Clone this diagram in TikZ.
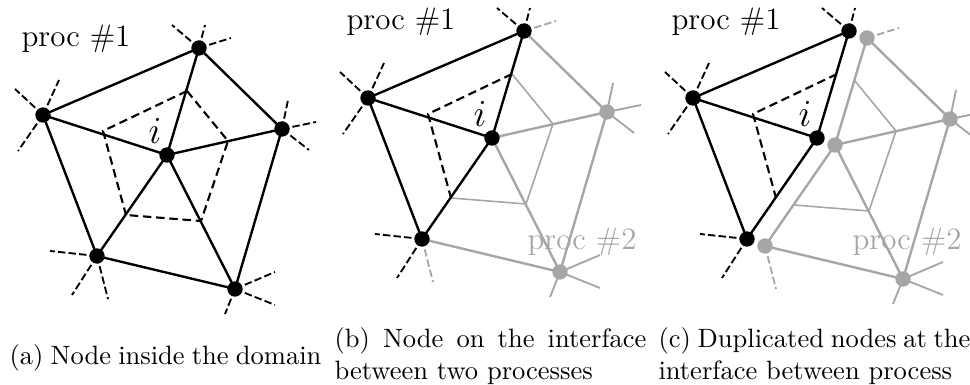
\documentclass[tikz,border=0pt]{standalone}
\usepackage{xcolor}
\usetikzlibrary{calc}
\definecolor{procgray}{gray}{0.65}

\begin{document}
\begin{tikzpicture}
    [   x=0.377pt
    ,   y=0.377pt
    ,   blackvertex/.style=
        {   circle
        ,   fill=black
        ,   inner sep=0pt
        ,   minimum size=5.8pt
        }
    ,   grayvertex/.style=
        {   blackvertex
        ,   fill=procgray
        }
    ,   edge/.style=
        {   line width=0.9pt
        }
    ,   grayedge/.style=
        {   edge
        ,   draw=procgray
        }
    ,   cell/.style=
        {   line width=0.8pt
        ,   dash pattern=on 3.2pt off 1.8pt
        }
    ,   graycell/.style=
        {   line width=0.6pt
        ,   draw=procgray
        }
    ,   stub/.style=
        {   line width=0.7pt
        ,   dash pattern=on 2.8pt off 1.2pt
        }
    ,   graystub/.style=
        {   line width=0.7pt
        ,   draw=procgray
        }
    ,   graydash/.style=
        {   stub
        ,   draw=procgray
        }
    ,   proclabel/.style=
        {   font=\fontsize{11.7}{14}\selectfont
        ,   inner sep=0pt
        }
    ,   nodelabel/.style=
        {   font=\Large
        ,   inner sep=0pt
        }
    ,   caption/.style=
        {   anchor=north west
        ,   inner sep=0pt
        ,   text width=117.6pt
        ,   align=justify
        }
    ]
    \path[use as bounding box,clip] (0,0) rectangle (970,385);

    % panel A, B and C, and D the grey copy in panel C
    \foreach\p/\dx/\dy in {A/0/0,B/325/17,C/650/17,D/668/10}
    {   \foreach\n/\x/\y in {0/167/230,1/199/337,2/282/256,3/235/96,4/97/129,5/43/270}
        {   \coordinate (\p V\n) at (\x+\dx,\y+\dy);
        }
        \foreach\n/\x/\y in {1/103/254,2/187/294,3/228/244,4/201/164,5/126/170}
        {   \coordinate (\p M\n) at (\x+\dx,\y+\dy);
        }
        \foreach\n/\x/\y in {a/172/360,b/205/360,c/231/347,
            d/15/296,e/59/305,f/18/234,
            g/288/285,h/316/263,i/309/235,
            j/50/134,k/72/90,l/108/86,
            m/275/113,n/275/80,o/225/71}
        {   \coordinate (\p S\n) at (\x+\dx,\y+\dy);
        }
    }

    \node[proclabel,text=procgray] (ProcTwoB) at (582,143) {proc \#2};
    \node[proclabel,text=procgray] (ProcTwoC) at (907,143) {proc \#2};

    % grey parts
    \foreach\p/\a/\b in {B/0/2,B/0/3,B/1/2,B/2/3,B/3/4,
        D/0/1,D/0/2,D/0/3,D/0/4,D/1/2,D/2/3,D/3/4}
    {   \draw[grayedge] (\p V\a) -- (\p V\b);
    }
    \foreach\p in {B,D}
    {   \draw[graycell] (\p M2) -- (\p M3) -- (\p M4) -- (\p M5);
        \draw[graydash] (\p V1) -- (\p Sc);
        \draw[graydash] (\p V4) -- (\p Sl);
        \foreach\a/\b in {2/g,2/h,2/i,3/m,3/n,3/o}
        {   \draw[graystub] (\p V\a) -- (\p S\b);
        }
    }
    \foreach\n in {2,3}
    {   \node[grayvertex] (BN\n) at (BV\n) {};
    }
    \foreach\n in {0,1,2,3,4}
    {   \node[grayvertex] (DN\n) at (DV\n) {};
    }

    % black parts
    \foreach\a/\b in {0/2,0/3,1/2,2/3,3/4}
    {   \draw[edge] (AV\a) -- (AV\b);
    }
    \foreach\p in {A,B,C}
    {   \foreach\a/\b in {0/1,0/4,0/5,1/5,4/5}
        {   \draw[edge] (\p V\a) -- (\p V\b);
        }
        \draw[cell] (\p M2) -- (\p M1) -- (\p M5);
        \foreach\a/\b in {1/a,1/b,5/d,5/e,5/f,4/j,4/k}
        {   \draw[stub] (\p V\a) -- (\p S\b);
        }
        \foreach\n in {0,1,4,5}
        {   \node[blackvertex] (\p N\n) at (\p V\n) {};
        }
    }
    \draw[cell] (AM2) -- (AM3) -- (AM4) -- (AM5);
    \foreach\a/\b in {1/c,4/l,2/g,2/h,2/i,3/m,3/n,3/o}
    {   \draw[stub] (AV\a) -- (AS\b);
    }
    \node[blackvertex] (AN2) at (AV2) {};
    \node[blackvertex] (AN3) at (AV3) {};

    % labels
    \node[proclabel] (ProcOneA) at (76,346) {proc \#1};
    \node[proclabel] (ProcOneB) at (401,363) {proc \#1};
    \node[proclabel] (ProcOneC) at (726,363) {proc \#1};
    \node[nodelabel] (NodeA) at (155,254) {$i$};
    \node[nodelabel] (NodeB) at (480,271) {$i$};
    \node[nodelabel] (NodeC) at (805,271) {$i$};

    \node[caption] (CapA) at (9,41) {(a) Node inside the domain};
    \node[caption] (CapB) at (334,58) {(b) Node on the interface between two processes};
    \node[caption] (CapC) at (658,58) {(c) Duplicated nodes at the interface between process};
\end{tikzpicture}
\end{document}
